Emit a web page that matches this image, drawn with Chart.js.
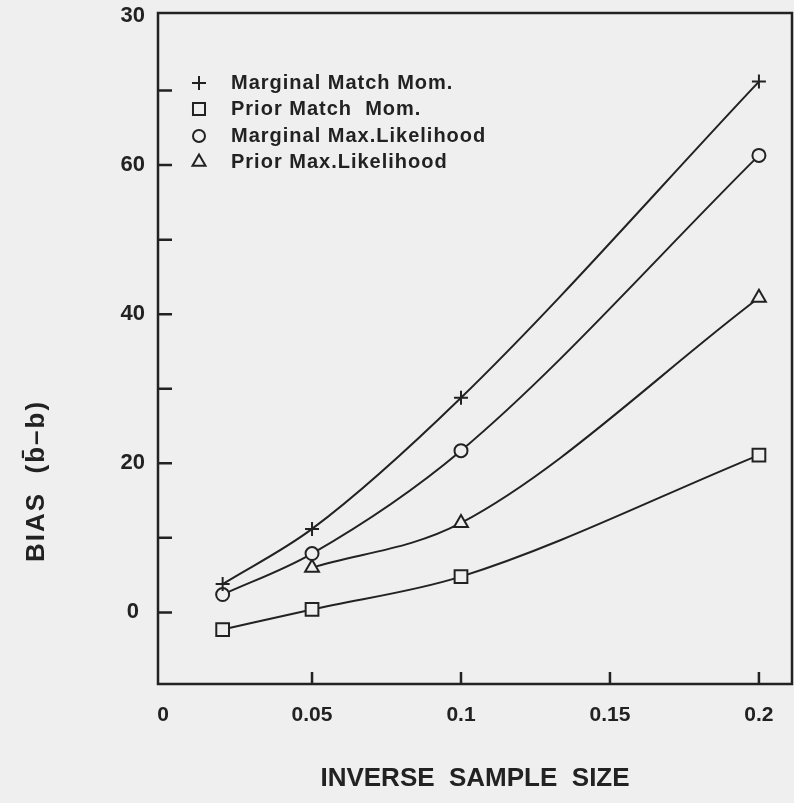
<!DOCTYPE html>
<html><head><meta charset="utf-8">
<script src="https://cdn.jsdelivr.net/npm/chart.js@4/dist/chart.umd.min.js"></script>
<style>html,body{margin:0;padding:0;background:#efefef;} #wrap{width:794px;height:803px;position:relative;}</style>
</head><body><div id="wrap"><canvas id="c" width="794" height="803"></canvas></div>
<script>
// ---- data ----
const xValues = [0.02, 0.05, 0.1, 0.2];
const seriesLabels = ['Marginal Match Mom.', 'Prior Match  Mom.', 'Marginal Max.Likelihood', 'Prior Max.Likelihood'];
const marginalMatchMom = [3.8, 11.2, 28.8, 71.2];
const priorMatchMom = [-2.3, 0.4, 4.8, 21.1];
const marginalMaxLik = [2.4, 7.9, 21.7, 61.3];
const priorMaxLik = [null, 6.0, 12.0, 42.2];
const xTickValues = [0, 0.05, 0.1, 0.15, 0.2];
const xTickLabels = ['0', '0.05', '0.1', '0.15', '0.2'];
const yTickValues = [0, 20, 40, 60, 80];
const yTickLabels = ['0', '20', '40', '60', '30'];
const yMinorTicks = [10, 30, 50, 70];
const xTitle = 'INVERSE  SAMPLE  SIZE';
const yTitle = 'BIAS  (b\u0304\u2013b)';

const INK = '#222';
const BG = '#efefef';
const FONT = '"Liberation Sans", Arial, Helvetica, sans-serif';

function pts(arr){ return xValues.map((x,i)=>({x:x, y:arr[i]})).filter(p=>p.y!==null); }

const styles = [
  {pointStyle:'cross', radius:7},
  {pointStyle:'rect', radius:9},
  {pointStyle:'circle', radius:6.5},
  {pointStyle:'triangle', radius:8}
];
const seriesData = [marginalMatchMom, priorMatchMom, marginalMaxLik, priorMaxLik];

const datasets = seriesData.map((arr,i)=>({
  label: seriesLabels[i],
  data: pts(arr),
  borderColor: INK,
  borderWidth: 2,
  pointStyle: styles[i].pointStyle,
  pointRadius: styles[i].radius,
  pointBorderWidth: 2,
  pointBorderColor: INK,
  pointBackgroundColor: BG,
  cubicInterpolationMode: 'monotone',
  fill: false
}));

function drawSymbol(ctx, style, r, x, y){
  ctx.save();
  ctx.strokeStyle = INK; ctx.lineWidth = 2; ctx.fillStyle = BG;
  ctx.beginPath();
  if (style==='cross'){
    ctx.moveTo(x-r,y); ctx.lineTo(x+r,y); ctx.moveTo(x,y-r); ctx.lineTo(x,y+r); ctx.stroke();
  } else if (style==='rect'){
    const s = r*Math.SQRT1_2; ctx.rect(x-s,y-s,2*s,2*s); ctx.fill(); ctx.stroke();
  } else if (style==='circle'){
    ctx.arc(x,y,r,0,Math.PI*2); ctx.fill(); ctx.stroke();
  } else if (style==='triangle'){
    ctx.moveTo(x, y-r); ctx.lineTo(x+r*0.866, y+r*0.5); ctx.lineTo(x-r*0.866, y+r*0.5); ctx.closePath(); ctx.fill(); ctx.stroke();
  }
  ctx.restore();
}

const decor = {
  id: 'decor',
  beforeDraw(chart){
    const ctx = chart.ctx;
    ctx.save(); ctx.fillStyle = BG; ctx.fillRect(0,0,chart.width,chart.height); ctx.restore();
  },
  afterDatasetsDraw(chart){
    const ctx = chart.ctx, a = chart.chartArea;
    const xs = chart.scales.x, ys = chart.scales.y;
    ctx.save();
    ctx.strokeStyle = INK; ctx.lineWidth = 2.5;
    ctx.strokeRect(a.left, a.top, a.right-a.left, a.bottom-a.top);
    ctx.beginPath();
    xTickValues.forEach(v=>{ if (v<=0) return; const px = xs.getPixelForValue(v); ctx.moveTo(px, a.bottom); ctx.lineTo(px, a.bottom-12); });
    yTickValues.concat(yMinorTicks).forEach(v=>{ if (v>=80) return; const py = ys.getPixelForValue(v); ctx.moveTo(a.left, py); ctx.lineTo(a.left+14, py); });
    ctx.stroke();
    // y title
    ctx.fillStyle = INK;
    ctx.font = 'bold 26px ' + FONT;
    ctx.letterSpacing = '2px';
    ctx.translate(37, 481); ctx.rotate(-Math.PI/2);
    ctx.textAlign = 'center'; ctx.textBaseline = 'middle';
    ctx.fillText(yTitle, 0, 0);
    ctx.restore();
    // legend
    ctx.save();
    ctx.fillStyle = INK;
    ctx.font = 'bold 20px ' + FONT;
    ctx.letterSpacing = '1px';
    ctx.textBaseline = 'middle'; ctx.textAlign = 'left';
    const rowsY = [83, 109, 136, 162];
    const symR = [7, 8.5, 6, 7.5];
    chart.data.datasets.forEach((ds,i)=>{
      drawSymbol(ctx, styles[i].pointStyle, symR[i], 199, rowsY[i]);
      ctx.fillText(ds.label, 231, rowsY[i]);
    });
    ctx.restore();
  }
};

new Chart(document.getElementById('c'), {
  type: 'line',
  data: { datasets: datasets },
  options: {
    responsive: false,
    animation: false,
    layout: { autoPadding: false, padding: { left: 0, top: 13, right: 2, bottom: 0 } },
    plugins: { legend: { display: false }, tooltip: { enabled: false }, title: { display: false } },
    scales: {
      x: {
        type: 'linear', min: -0.0017, max: 0.2111,
        afterBuildTicks: s => { s.ticks = xTickValues.map(v=>({value:v})); },
        afterFit: s => { s.height = 119; s.paddingLeft = 0; s.paddingRight = 0; },
        grid: { display: false, drawTicks: false },
        border: { display: false },
        ticks: { padding: 19, color: INK, font: { family: FONT, size: 21, weight: 'bold' },
                 callback: (v, i) => xTickLabels[i], maxRotation: 0, autoSkip: false },
        title: { display: true, text: xTitle, color: INK, font: { family: FONT, size: 26, weight: 'bold' }, padding: { top: 0, bottom: 9 } }
      },
      y: {
        type: 'linear', min: -9.6, max: 80.4,
        afterBuildTicks: s => { s.ticks = yTickValues.map(v=>({value:v})); },
        afterFit: s => { s.width = 158; s.paddingTop = 0; s.paddingBottom = 0; },
        grid: { display: false, drawTicks: false },
        border: { display: false },
        ticks: { padding: 13, crossAlign: 'center', color: INK, font: { family: FONT, size: 22, weight: 'bold' },
                 callback: (v, i) => yTickLabels[i], autoSkip: false }
      }
    }
  },
  plugins: [decor]
});
</script>
</body></html>
